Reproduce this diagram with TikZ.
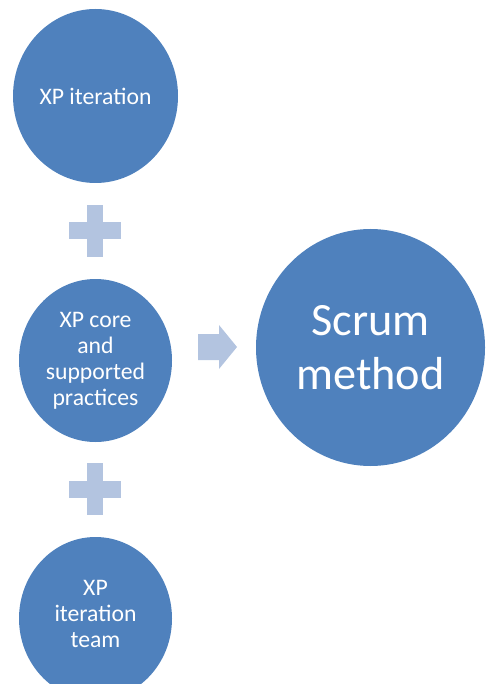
\documentclass[tikz,border=0pt]{standalone}
\usepackage{fontspec}
\setmainfont{Carlito}
\usetikzlibrary{shapes.geometric}
\definecolor{bubble}{RGB}{79,129,189}
\definecolor{joiner}{RGB}{179,196,224}
\tikzset{
  bubble/.style={ellipse, fill=bubble, draw=none, inner sep=0pt, text=white,
    align=center, font=\fontsize{23.7}{26}\selectfont},
  bubbletext/.style={inner sep=0pt, text=white, align=center,
    font=\fontsize{23.7}{26}\selectfont},
  bigbubble/.style={bubble, font=\fontsize{46.3}{54}\selectfont},
  joinfill/.style={fill=joiner, draw=none}
}
\begin{document}
\begin{tikzpicture}[x=1pt, y=-1pt]
  \useasboundingbox (0,0) rectangle (486,684);

  % the three XP inputs
  \node[bubble, minimum width=165pt, minimum height=174pt] (iter) at (95.5,96) {XP iteration};
  \node[bubble, minimum width=153pt, minimum height=163pt] (core) at (95.5,360.5)
    {XP core\\and\\supported\\practices};
  \node[bubble, minimum width=153pt, minimum height=163pt] (team) at (95.5,618.5) {};
  \node[bubbletext] (teamtext) at ([yshift=5pt]team.center) {XP\\iteration\\team};

  % the result
  \node[bigbubble, minimum width=229pt, minimum height=237pt] (scrum) at (370.5,347.5)
    {Scrum\\method};

  % plus signs between the inputs
  \coordinate (plusA) at (95,231);
  \coordinate (plusB) at (95,489);
  \foreach \p in {plusA,plusB}{
    \fill[joinfill] ([shift={(-26,-8.5)}]\p) rectangle ([shift={(26,8.5)}]\p);
    \fill[joinfill] ([shift={(-8,-26)}]\p) rectangle ([shift={(8,26)}]\p);
  }

  % arrow towards the result
  \coordinate (arr) at (198,347);
  \fill[joinfill] ([shift={(0,-13)}]arr) -- ([shift={(21,-13)}]arr) -- ([shift={(21,-22)}]arr)
    -- ([shift={(39,0)}]arr) -- ([shift={(21,22)}]arr) -- ([shift={(21,13)}]arr)
    -- ([shift={(0,13)}]arr) -- cycle;
\end{tikzpicture}
\end{document}
